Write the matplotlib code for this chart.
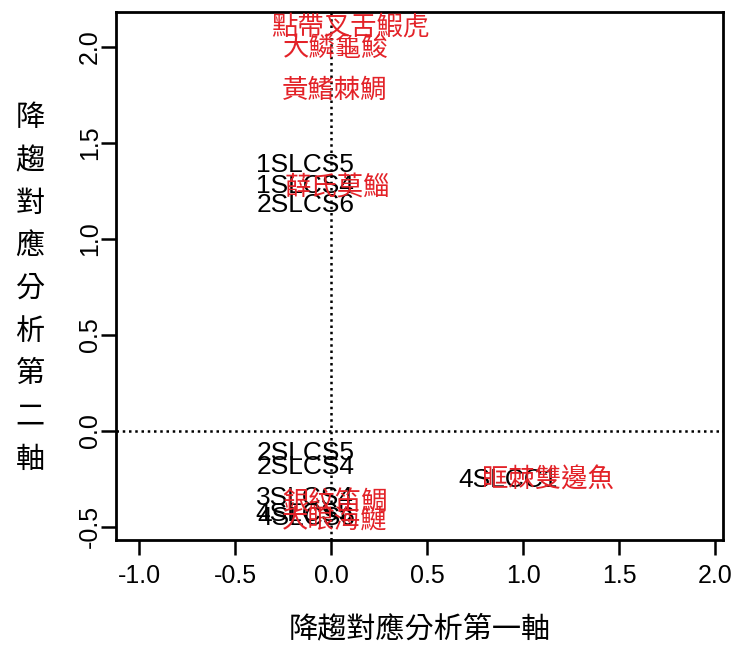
import matplotlib
matplotlib.use("Agg")
import matplotlib.pyplot as plt

plt.rcParams['font.family'] = ['Liberation Sans', 'Noto Sans CJK TC', 'DejaVu Sans']

# site scores (DCA axis 1, axis 2)
site_names = ['1SLCS5', '1SLCS4', '2SLCS6', '2SLCS5', '2SLCS4',
              '3SLCS4', '4SLCS5', '4SLCS6', '4SLCC1']
site_x = [-0.135, -0.135, -0.135, -0.135, -0.135, -0.135, -0.14, -0.13, 0.92]
site_y = [1.385, 1.275, 1.175, -0.115, -0.19, -0.35, -0.435, -0.455, -0.255]

# species scores
species_names = ['點帶叉舌鰕虎', '大鱗龜鮻', '黃鰭棘鯛', '薛氏莫鯔',
                 '眶棘雙邊魚', '銀紋笛鯛', '大眼海鰱']
species_x = [0.10, 0.025, 0.02, 0.03, 1.13, 0.02, 0.02]
species_y = [2.10, 1.99, 1.77, 1.265, -0.26, -0.375, -0.47]

xticks = [-1.0, -0.5, 0.0, 0.5, 1.0, 1.5, 2.0]
yticks = [-0.5, 0.0, 0.5, 1.0, 1.5, 2.0]

fig = plt.figure(figsize=(7.33, 6.48), dpi=100)
ax = fig.add_axes([116 / 733, 108 / 648, 607 / 733, 528 / 648])

ax.set_xlim(-1.12, 2.04)
ax.set_ylim(-0.57, 2.18)

ax.axhline(0, color='black', linestyle=(0, (1, 1.5)), linewidth=1.8, zorder=1)
ax.axvline(0, color='black', linestyle=(0, (1, 1.5)), linewidth=1.8, zorder=1)

for name, x, y in zip(site_names, site_x, site_y):
    ax.text(x, y, name, ha='center', va='center', fontsize=19,
            family='Liberation Sans', color='black', zorder=3)

for name, x, y in zip(species_names, species_x, species_y):
    ax.text(x, y, name, ha='center', va='center', fontsize=19,
            family=['Noto Sans CJK TC', 'DejaVu Sans'], color='#e32228', zorder=4)

ax.set_xticks(xticks)
ax.set_xticklabels([f'{t:.1f}' for t in xticks])
ax.set_yticks(yticks)
ax.set_yticklabels([f'{t:.1f}' for t in yticks], rotation=90, va='center')
ax.tick_params(axis='both', direction='out', length=11, width=1.8, labelsize=18)
ax.tick_params(axis='x', pad=6)
ax.tick_params(axis='y', pad=-1)
for s in ax.spines.values():
    s.set_linewidth(2)

ax.set_xlabel('降趨對應分析第一軸', family=['Noto Sans CJK TC', 'DejaVu Sans'],
              fontsize=21, labelpad=19)
fig.text(30 / 733, 1 - 289 / 648, '\n'.join('降趨對應分析第二軸'),
         family=['Noto Sans CJK TC', 'DejaVu Sans'], fontsize=21,
         ha='center', va='center', linespacing=1.55)

fig.savefig('out.png', dpi=100, facecolor='white')
